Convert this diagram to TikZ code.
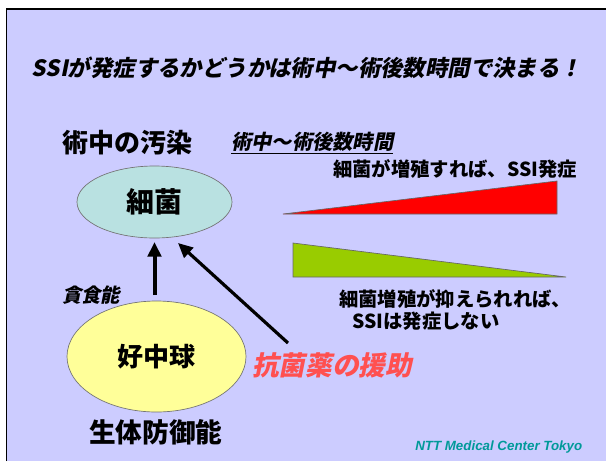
\documentclass[tikz,border=0pt]{standalone}
\usepackage{fontspec}
\setmainfont{Noto Sans CJK JP}
\newfontfamily\jp{Noto Sans CJK JP}
\newfontfamily\jpit{Noto Sans CJK JP}[FakeSlant=0.2]
\newfontfamily\latinbi{Liberation Sans}[UprightFont={* Bold Italic}]
\usetikzlibrary{shapes.geometric,arrows.meta}
\definecolor{bgc}{HTML}{CCCCFF}
\definecolor{cyanf}{HTML}{B9E1E1}
\definecolor{yellowf}{HTML}{FFFF99}
\definecolor{greenf}{HTML}{99CC00}
\definecolor{pinkt}{HTML}{FF5050}
\definecolor{tealt}{HTML}{009999}
\tikzset{
  lbl/.style={inner sep=0pt, anchor=west, text=black},
  blob/.style={ellipse, draw=black!55, line width=0.5pt, inner sep=0pt},
  arr/.style={-{Triangle[length=11pt,width=10pt]}, line width=3pt, black},
  wedge/.style={draw=black!60, line width=0.5pt}
}
\begin{document}
\begin{tikzpicture}[x=0.75pt,y=-0.75pt]
\fill[white] (0,0) rectangle (606,461);
\useasboundingbox (0,0) rectangle (606,461);
\fill[bgc] (6.5,9) rectangle (606,461);
\draw[black, line width=0.9pt] (6.5,461) -- (6.5,9) -- (606,9);

% title
\node[inner sep=0pt] (title) at (307,68) {\jpit\bfseries\fontsize{16.8}{20}\selectfont SSIが発症するかどうかは術中～術後数時間で決まる！};

% labels
\node[lbl] (kansen) at (62,143) {\jp\bfseries\fontsize{19.5}{22}\selectfont 術中の汚染};
\node[lbl] (jikan) at (231,143) {\jpit\bfseries\fontsize{15.2}{18}\selectfont\underline{術中～術後数時間}};

% ellipses
\node[blob, fill=cyanf, minimum width=116.25pt, minimum height=54pt] (saikin) at (154.5,202) {\jp\bfseries\fontsize{21}{24}\selectfont 細菌};
\node[blob, fill=yellowf, minimum width=134.25pt, minimum height=83.25pt] (kochu) at (156.5,356.5) {\jp\bfseries\fontsize{19.5}{22}\selectfont 好中球};

% wedges
\coordinate (r1) at (283,214);
\coordinate (r2) at (557,181);
\coordinate (r3) at (557,214);
\draw[wedge, fill=red] (r1) -- (r2) -- (r3) -- cycle;
\coordinate (g1) at (293,243);
\coordinate (g2) at (293,277);
\coordinate (g3) at (566,277);
\draw[wedge, fill=greenf] (g1) -- (g2) -- (g3) -- cycle;

\node[lbl] (zoushoku) at (333,169) {\jp\bfseries\fontsize{14.5}{17}\selectfont 細菌が増殖すれば、SSI発症};
\node[lbl] (yokusei1) at (339,298.5) {\jp\bfseries\fontsize{14.5}{17}\selectfont 細菌増殖が抑えられれば、};
\node[lbl] (yokusei2) at (352,321.5) {\jp\bfseries\fontsize{14.5}{17}\selectfont SSIは発症しない};

% arrows
\coordinate (a1s) at (154.5,295);
\coordinate (a1e) at (154.5,242);
\draw[arr] (a1s) -- (a1e);
\coordinate (a2s) at (288,343);
\coordinate (a2e) at (178,243);
\draw[arr, line width=2.4pt] (a2s) -- (a2e);

\node[lbl] (donshoku) at (62,295) {\jpit\bfseries\fontsize{14.5}{17}\selectfont 貪食能};
\node[lbl, text=pinkt] (kokin) at (252,365) {\jpit\bfseries\fontsize{20}{23}\selectfont 抗菌薬の援助};
\node[lbl] (seitai) at (89,432) {\jp\bfseries\fontsize{20}{23}\selectfont 生体防御能};
\node[lbl, text=tealt] (ntt) at (415,447.5) {\latinbi\fontsize{10}{12}\selectfont NTT Medical Center Tokyo};
\end{tikzpicture}
\end{document}
